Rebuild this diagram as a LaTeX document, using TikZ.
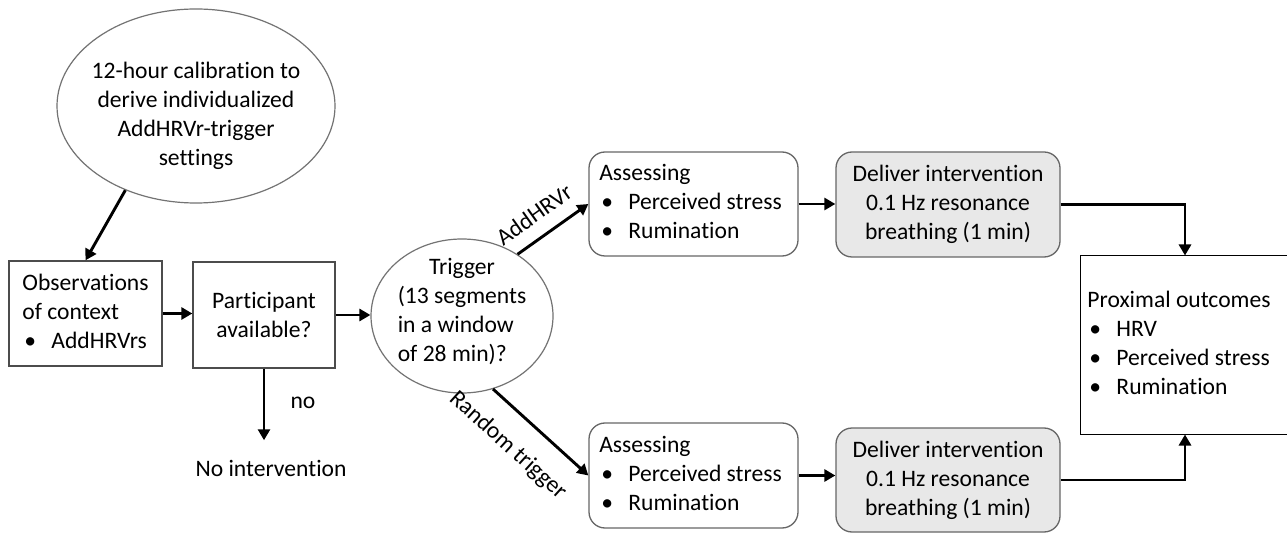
\documentclass[tikz,border=0pt]{standalone}
\usepackage{fontspec}
\setmainfont{Carlito}[Ligatures=NoCommon]
\usetikzlibrary{shapes.geometric,arrows.meta}
\newcommand{\bul}[1]{\makebox[29pt][l]{\hspace{2pt}•}#1}
\definecolor{delgray}{HTML}{E8E8E8}
\begin{document}
\begin{tikzpicture}[x=1pt,y=-1pt,
  font=\fontsize{23.6}{29}\selectfont,
  sqbox/.style={draw=black!70, line width=1.3pt, rectangle, inner sep=0pt},
  rbox/.style={draw=black!60, line width=1.3pt, rectangle, rounded corners=16pt, inner sep=0pt},
  ovalnode/.style={draw=black!55, line width=1.2pt, ellipse, inner sep=0pt},
  conn/.style={line width=2.9pt, -{Triangle[length=11pt,width=12pt]}},
]
\clip (0,0) rectangle (1287,534);
\fill[white] (0,0) rectangle (1287,534);

% nodes
\node[ovalnode, minimum width=278pt, minimum height=194pt] (cal) at (196,106) {};
\node[align=center] (caltxt) at (196,116) {12-hour calibration to\\derive individualized\\AddHRVr-trigger\\settings};

\node[sqbox, minimum width=153pt, minimum height=105pt] (obs) at (85.5,313.5) {\begin{tabular}{@{}l@{}}Observations\\of context\\\bul{AddHRVrs}\end{tabular}};

\node[sqbox, minimum width=142pt, minimum height=106pt, align=center] (part) at (264,315) {Participant\\available?};

\node (noint) at (271,468) {No intervention};
\node (nolab) at (303,403) {no};

\node[ovalnode, minimum width=182pt, minimum height=154pt] (trig) at (462,316) {};
\node (trigtxt) at (462,312) {\begin{tabular}{@{}l@{}}\multicolumn{1}{@{}c@{}}{Trigger}\\(13 segments\\in a window\\of 28 min)?\end{tabular}};

\node[rbox, minimum width=209pt, minimum height=104pt] (aT) at (693.5,204) {\begin{tabular}{@{}l@{}}Assessing\\\bul{Perceived stress}\\\bul{Rumination}\end{tabular}\hspace*{6pt}};
\node[rbox, fill=delgray, minimum width=224pt, minimum height=105pt, align=center] (dT) at (948,204.5) {Deliver intervention\\0.1 Hz resonance\\breathing (1 min)};

\node[rbox, minimum width=209pt, minimum height=105pt] (aB) at (693.5,475.5) {\begin{tabular}{@{}l@{}}Assessing\\\bul{Perceived stress}\\\bul{Rumination}\end{tabular}\hspace*{6pt}};
\node[rbox, fill=delgray, minimum width=224pt, minimum height=104pt, align=center] (dB) at (948,480) {Deliver intervention\\0.1 Hz resonance\\breathing (1 min)};

\node[sqbox, draw=black, line width=1pt, minimum width=210pt, minimum height=178pt] (prox) at (1185,345) {\begin{tabular}{@{}l@{}}Proximal outcomes\\\bul{HRV}\\\bul{Perceived stress}\\\bul{Rumination}\end{tabular}\hspace*{12pt}};

% connectors
\draw[conn] (cal.-130) -- (obs.north);
\draw[conn] (obs.east) -- (obs.east -| part.west);
\draw[conn] (part.east) -- (part.east -| trig.west);
\draw[conn] (part.south) -- ([yshift=16pt]noint.north -| part.south);
\draw[conn] (trig.48) -- node[sloped, above=10pt, pos=0.42] (lab1) {AddHRVr} (aT.west);
\draw[conn] (trig.-67) -- node[sloped, below=17pt, pos=0.38] (lab2) {Random trigger} (aB.west);
\draw[conn] (aT.east) -- (aT.east -| dT.west);
\draw[conn] (aB.east) -- (aB.east -| dB.west);
\draw[conn] (dT.east) -| (prox.north);
\draw[conn] (dB.east) -| (prox.south);
\end{tikzpicture}
\end{document}
